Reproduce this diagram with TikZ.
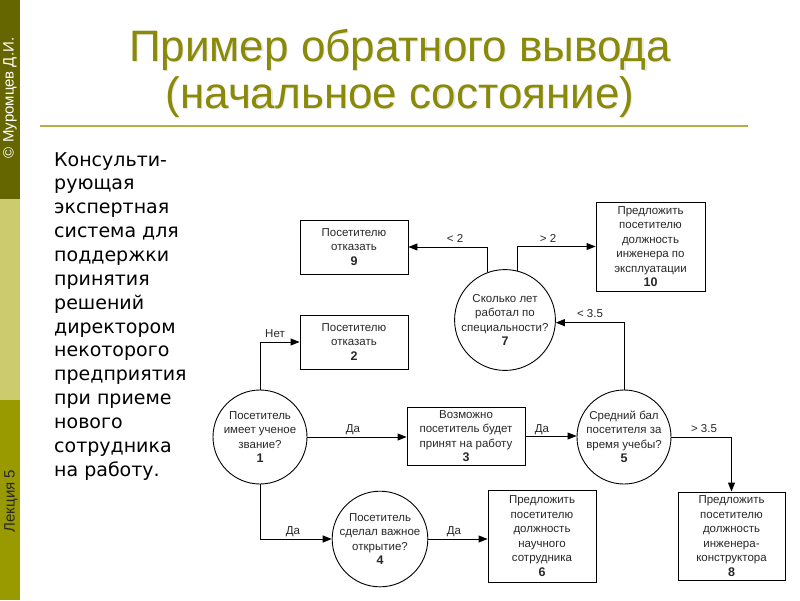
\documentclass[tikz,border=0pt]{standalone}
\usepackage{fontspec}
\setmainfont{Liberation Sans}
\newfontfamily\bodyfont{DejaVu Sans}
\usetikzlibrary{arrows.meta,calc}
\definecolor{sidedark}{RGB}{102,102,0}
\definecolor{sidelight}{RGB}{204,204,110}
\definecolor{sidemid}{RGB}{153,153,0}
\definecolor{titleolive}{RGB}{138,138,8}
\definecolor{ruleolive}{RGB}{176,176,70}
\definecolor{diagtext}{RGB}{40,40,40}
\tikzset{
  box/.style={draw, line width=0.9pt, align=center, inner sep=0pt, text=diagtext,
    font=\fontsize{11.5}{14.5}\selectfont},
  circ/.style={draw, circle, line width=0.9pt, minimum size=94pt, inner sep=0pt, text=diagtext,
    align=center, font=\fontsize{11.5}{14.5}\selectfont},
  conn/.style={line width=0.9pt, -{Triangle[length=9pt,width=7pt]}},
  lbl/.style={font=\fontsize{11.5}{13}\selectfont, anchor=base, inner sep=0pt, text=diagtext},
  titletext/.style={font=\fontsize{44}{50}\selectfont, text=titleolive, anchor=base, inner sep=0pt},
  titleshadow/.style={font=\fontsize{44}{50}\selectfont, text=black, opacity=0.1, anchor=base, inner sep=0pt}
}
\newcommand{\nm}[1]{{\fontsize{12.5}{14.5}\selectfont\textbf{#1}}}
\begin{document}
\begin{tikzpicture}[x=1pt,y=-1pt]
\useasboundingbox (0,0) rectangle (800,600);
\fill[white] (0,0) rectangle (800,600);
% sidebar
\fill[sidedark] (0,0) rectangle (20,199);
\fill[sidelight] (0,199) rectangle (20,400);
\fill[sidemid] (0,400) rectangle (20,600);
\node[rotate=90, text=white, font=\fontsize{15}{17}\selectfont, inner sep=0pt] (author) at (10,98) {© Муромцев Д.И.};
\node[rotate=90, text=black!85, font=\fontsize{15}{17}\selectfont, inner sep=0pt] (lecture) at (11,501) {Лекция 5};
% title
\node[titleshadow] (s1) at (401.2,62.2) {Пример обратного вывода};
\node[titleshadow] (s2) at (401.2,109.2) {(начальное состояние)};
\node[titletext] (t1) at (400,61) {Пример обратного вывода};
\node[titletext] (t2) at (400,108) {(начальное состояние)};
\draw[ruleolive, line width=1.5pt] (40,126) -- (748,126);
% left text
\node[anchor=north west, align=left, inner sep=0pt,
  font=\bodyfont\fontsize{19}{23.85}\selectfont] (desc) at (54,152)
  {Консульти-\\рующая\\экспертная\\система для\\поддержки\\принятия\\решений\\директором\\некоторого\\предприятия\\при приеме\\нового\\сотрудника\\на работу.};
% nodes
\node[box, minimum width=108pt, minimum height=54pt] (b9) at (354,247) {Посетителю\\отказать\\\nm{9}};
\node[box, minimum width=109pt, minimum height=89pt] (b10) at (650.5,246.5) {Предложить\\посетителю\\должность\\инженера по\\эксплуатации\\\nm{10}};
\node[circ] (c7) at (505,320) {Сколько лет\\работал по\\специальности?\\\nm{7}};
\node[box, minimum width=108pt, minimum height=54pt] (b2) at (354,342) {Посетителю\\отказать\\\nm{2}};
\node[circ] (c1) at (260,437) {Посетитель\\имеет ученое\\звание?\\\nm{1}};
\node[box, minimum width=118pt, minimum height=58pt] (b3) at (466,436) {Возможно\\посетитель будет\\принят на работу\\\nm{3}};
\node[circ] (c5) at (624,437) {Средний бал\\посетителя за\\время учебы?\\\nm{5}};
\node[box, minimum width=107pt, minimum height=88pt] (b8) at (731.5,536) {Предложить\\посетителю\\должность\\инженера-\\конструктора\\\nm{8}};
\node[circ] (c4) at (380,539) {Посетитель\\сделал важное\\открытие?\\\nm{4}};
\node[box, minimum width=108pt, minimum height=92pt] (b6) at (542,536) {Предложить\\посетителю\\должность\\научного\\сотрудника\\\nm{6}};
% connectors
\draw[conn] (c7.110) |- (b9.east);
\draw[conn] (c7.76) |- (b10.west);
\draw[conn] (c1.north) |- (b2.west);
\draw[conn] (c1.east) -- (c1.east -| b3.west);
\draw[conn] (b3.east) -- (b3.east -| c5.west);
\draw[conn] (c5.north) |- (c7.-3);
\draw[conn] (c5.east) -| (b8.north);
\draw[conn] (c1.south) |- (c4.west);
\draw[conn] (c4.east) -- (c4.east -| b6.west);
% labels
\node[lbl] (l1) at (455,242) {< 2};
\node[lbl] (l2) at (548,242) {> 2};
\node[lbl] (l3) at (275,337) {Нет};
\node[lbl] (l4) at (353,432) {Да};
\node[lbl] (l5) at (542,432) {Да};
\node[lbl] (l6) at (590,317) {< 3.5};
\node[lbl] (l7) at (704,432) {> 3.5};
\node[lbl] (l8) at (293,534) {Да};
\node[lbl] (l9) at (454,534) {Да};
\end{tikzpicture}
\end{document}
